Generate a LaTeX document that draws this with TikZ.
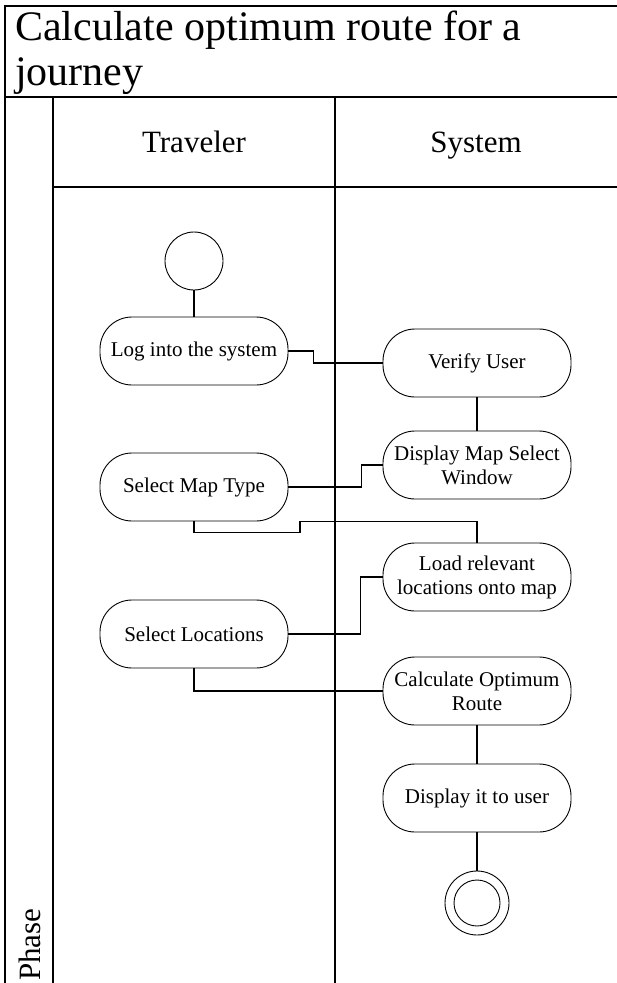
\documentclass[tikz,border=0pt]{standalone}
\usepackage{fontspec}
\setmainfont{Liberation Serif}
\usetikzlibrary{positioning,calc}

\begin{document}
\begin{tikzpicture}[
    x=1pt, y=-1pt,
    act/.style={draw, rounded corners=32pt, minimum width=188pt, minimum height=68pt, align=center, inner sep=2pt, font=\fontsize{21}{24}\selectfont, line width=0.9pt},
    dot/.style={draw, circle, line width=0.9pt},
    link/.style={line width=1.8pt},
    frame/.style={line width=2.2pt},
    lanehead/.style={anchor=base, font=\fontsize{31}{36}\selectfont}
]
\useasboundingbox (0,0) rectangle (617,983);

% frame and lanes
\draw[frame] (617,6) -- (5,6) -- (5,983);
\draw[frame] (5,97) -- (617,97);
\draw[frame] (53,97) -- (53,983);
\draw[frame] (335,97) -- (335,983);
\draw[frame] (53,187) -- (617,187);

\node[anchor=base west, align=left, inner sep=0pt, font=\fontsize{42}{45}\selectfont] (title) at (15,85) {Calculate optimum route for a\\journey};
\node[lanehead] (traveler) at (194,152) {Traveler};
\node[lanehead] (system) at (476,152) {System};
\node[anchor=base west, rotate=90, inner sep=0pt, font=\fontsize{31}{36}\selectfont] (phase) at (40,981) {Phase};

% activities
\node[dot, minimum size=58pt] (start) at (194,261) {};
\node[act] (login)   at (194,351) {Log into the system};
\node[act] (verify)  at (477,363) {Verify User};
\node[act] (mapwin)  at (477,465) {Display Map Select\\Window};
\node[act] (maptype) at (194,487) {Select Map Type};
\node[act] (loadloc) at (477,577) {Load relevant\\locations onto map};
\node[act] (selloc)  at (194,634) {Select Locations};
\node[act] (calc)    at (477,691) {Calculate Optimum\\Route};
\node[act] (show)    at (477,798) {Display it to user};
\node[dot, minimum size=64pt] (stop) at (477,903) {};
\draw[line width=0.9pt] (stop.center) circle[radius=23pt];

% flows
\draw[link] (start.south) -- (login.north);
\draw[link] (login.east) -- ++(25,0) |- (verify.west);
\draw[link] (verify.south) -- (mapwin.north);
\draw[link] (maptype.east) -- ++(73,0) |- (mapwin.west);
\draw[link] (maptype.south) -- ++(0,11) -| ++(106,-11) -| (loadloc.north);
\draw[link] (selloc.east) -- ++(72,0) |- (loadloc.west);
\draw[link] (selloc.south) |- (calc.west);
\draw[link] (calc.south) -- (show.north);
\draw[link] (show.south) -- (stop.north);
\end{tikzpicture}
\end{document}
